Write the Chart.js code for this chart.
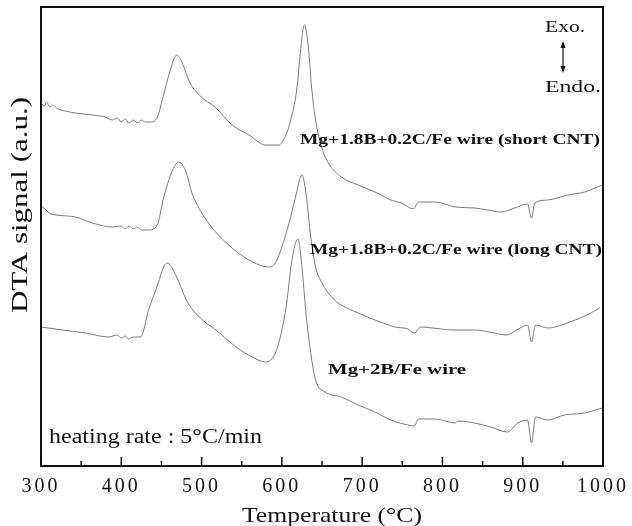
<!DOCTYPE html>
<html lang="en">
<head>
<meta charset="UTF-8">
<title>DTA curves - Mg/B/C Fe wires</title>
<script src="https://cdn.jsdelivr.net/npm/chart.js"></script>
<style>
  html, body { margin: 0; padding: 0; background: #fff; }
  #wrap { width: 632px; height: 526px; }
</style>
</head>
<body>
<div id="wrap"><canvas id="dtaChart" width="632" height="526"></canvas></div>
<script>
  // axis range (temperature in °C, DTA signal in arbitrary units)
  const xMin = 300, xMax = 1000, xStep = 100, xMinorStep = 50;
  const yMin = 0, yMax = 45.9;

  // Mg+1.8B+0.2C/Fe wire (short CNT)
  const tempShort = [300, 304, 307, 311, 315, 319, 330, 343, 364, 380, 389, 395, 400, 405, 410, 415, 420, 425, 430, 436,
    445, 452, 460, 469, 476, 485, 497, 518, 538, 559, 580, 596, 605, 612, 619, 623, 628, 633, 637, 642,
    650, 658, 674, 695, 716, 736, 749, 764, 770, 791, 816, 840, 856, 873, 890, 906, 911, 915, 931, 956, 977, 999];
  const dtaShort = [36.3, 36.0, 36.4, 35.9, 36.1, 35.8, 35.5, 35.3, 35.1, 34.9, 34.6, 34.8, 34.4, 34.7, 34.3, 34.6, 34.3, 34.6, 34.4, 34.4,
    34.9, 36.9, 39.3, 41.1, 40.3, 38.4, 37.1, 35.8, 34.1, 33.1, 32.1, 32.1, 33.1, 34.9, 37.9, 41.3, 44.1, 41.9, 37.9, 34.6,
    31.8, 30.3, 28.9, 28.1, 27.4, 26.6, 26.3, 25.7, 26.4, 26.4, 25.9, 25.8, 25.6, 25.4, 25.8, 26.2, 24.8, 26.3, 26.6, 27.1, 27.4, 28.1];

  // Mg+1.8B+0.2C/Fe wire (long CNT)
  const tempLong = [300, 305, 310, 319, 343, 364, 389, 400, 405, 410, 415, 420, 425, 434, 445, 452, 464, 472, 481, 488,
    506, 531, 559, 584, 592, 600, 609, 617, 625, 630, 636, 642, 650, 662, 674, 695, 716, 741, 757, 765,
    773, 798, 811, 840, 865, 879, 897, 906, 911, 916, 931, 959, 980, 996];
  const dtaLong = [26.0, 25.7, 25.3, 25.1, 24.9, 24.3, 23.9, 24.0, 23.7, 24.0, 23.7, 23.9, 23.6, 23.6, 24.1, 26.6, 29.6, 30.4, 29.3, 27.3,
    24.6, 22.3, 20.6, 19.9, 20.3, 21.9, 24.3, 26.9, 29.1, 27.3, 22.9, 19.9, 18.3, 16.9, 16.1, 15.3, 14.6, 13.9, 13.7, 13.3,
    13.9, 13.7, 13.6, 13.6, 13.3, 13.1, 13.8, 14.1, 12.4, 14.1, 13.8, 14.4, 15.1, 15.8];

  // Mg+2B/Fe wire
  const tempPure = [300, 327, 356, 384, 395, 400, 405, 409, 415, 424, 434, 443, 457, 469, 481, 497, 518, 543, 563, 580,
    592, 600, 606, 612, 620, 625, 630, 636, 642, 654, 674, 695, 716, 736, 757, 765, 770, 791, 816, 819,
    840, 860, 881, 894, 906, 911, 916, 931, 952, 977, 999];
  const dtaPure = [13.9, 13.6, 13.3, 12.9, 13.1, 12.8, 13.0, 12.7, 12.9, 12.9, 15.6, 17.6, 20.3, 18.9, 16.6, 14.9, 13.6, 11.9, 10.9, 10.4,
    11.3, 13.6, 16.3, 20.3, 22.7, 19.9, 15.3, 11.3, 8.6, 7.4, 6.9, 6.1, 5.4, 4.6, 4.1, 4.0, 4.7, 4.7, 4.3, 4.5,
    4.3, 3.9, 3.4, 4.3, 4.6, 2.3, 4.9, 4.6, 5.1, 5.3, 5.8];

  const SERIF = '"Liberation Serif", "DejaVu Serif", serif';
  const INK = '#111';
  const LINE = '#7a7a7a';

  const toPoints = (xs, ys) => xs.map((t, i) => ({ x: t, y: ys[i] }));

  // the scan is stretched sideways, so text is squeezed/stretched to the width it takes there
  function stretchedText(ctx, text, x, y, width, font) {
    ctx.font = font;
    ctx.letterSpacing = '0px';
    const w = ctx.measureText(text).width;
    ctx.save();
    ctx.translate(x, y);
    ctx.scale(width / w, 1);
    ctx.textAlign = 'left';
    ctx.textBaseline = 'alphabetic';
    ctx.fillText(text, 0, 0);
    ctx.restore();
  }

  function arrowHead(ctx, x, y, dir) {
    ctx.beginPath();
    ctx.moveTo(x, y);
    ctx.lineTo(x - 2.5, y + dir * 7);
    ctx.lineTo(x + 2.5, y + dir * 7);
    ctx.closePath();
    ctx.fill();
  }

  const decor = {
    id: 'decor',
    beforeDraw(chart) {
      chart.ctx.letterSpacing = '3px'; // tick labels
    },
    afterDraw(chart) {
      const { ctx, chartArea: a, scales: { x } } = chart;
      ctx.save();
      ctx.letterSpacing = '0px';
      ctx.strokeStyle = INK;
      ctx.fillStyle = INK;

      // box round the plot
      ctx.lineWidth = 2;
      ctx.strokeRect(a.left, a.top, a.right - a.left, a.bottom - a.top);

      // inward ticks on the temperature axis
      ctx.lineWidth = 1.5;
      for (let t = xMin; t <= xMax; t += xMinorStep) {
        const px = x.getPixelForValue(t);
        const len = t % xStep === 0 ? 9 : 5;
        ctx.beginPath();
        ctx.moveTo(px, a.bottom);
        ctx.lineTo(px, a.bottom - len);
        ctx.stroke();
      }

      // axis titles
      stretchedText(ctx, 'Temperature (°C)', 242, 522, 180, '21px ' + SERIF);
      ctx.save();
      ctx.translate(27, 313);
      ctx.rotate(-Math.PI / 2);
      stretchedText(ctx, 'DTA signal (a.u.)', 0, 0, 216, '23px ' + SERIF);
      ctx.restore();

      // curve labels
      stretchedText(ctx, 'Mg+1.8B+0.2C/Fe wire (short CNT)', 300, 144, 300, 'bold 15px ' + SERIF);
      stretchedText(ctx, 'Mg+1.8B+0.2C/Fe wire (long CNT)', 310, 254, 292, 'bold 15px ' + SERIF);
      stretchedText(ctx, 'Mg+2B/Fe wire', 328, 374, 138, 'bold 15px ' + SERIF);
      stretchedText(ctx, 'heating rate : 5°C/min', 49, 443, 213, '20px ' + SERIF);

      // Exo./Endo. direction marker
      stretchedText(ctx, 'Exo.', 545, 32, 40, '16px ' + SERIF);
      stretchedText(ctx, 'Endo.', 545, 92, 56, '16px ' + SERIF);
      ctx.lineWidth = 1.2;
      ctx.beginPath();
      ctx.moveTo(563, 46);
      ctx.lineTo(563, 68);
      ctx.stroke();
      arrowHead(ctx, 563, 41, 1);
      arrowHead(ctx, 563, 73, -1);

      ctx.restore();
    }
  };

  const lineSet = (label, xs, ys) => ({
    label: label,
    data: toPoints(xs, ys),
    borderColor: LINE,
    borderWidth: 1,
    pointRadius: 0,
    cubicInterpolationMode: 'monotone',
    fill: false
  });

  new Chart(document.getElementById('dtaChart'), {
    type: 'line',
    data: {
      datasets: [
        lineSet('Mg+1.8B+0.2C/Fe wire (short CNT)', tempShort, dtaShort),
        lineSet('Mg+1.8B+0.2C/Fe wire (long CNT)', tempLong, dtaLong),
        lineSet('Mg+2B/Fe wire', tempPure, dtaPure)
      ]
    },
    options: {
      responsive: false,
      animation: false,
      layout: { padding: { top: 7, right: 26, left: 0, bottom: 0 } },
      scales: {
        x: {
          type: 'linear',
          min: xMin,
          max: xMax,
          grid: { display: false, drawTicks: false },
          border: { display: false },
          ticks: {
            stepSize: xStep,
            padding: 9,
            color: INK,
            font: { family: SERIF, size: 20 },
            maxRotation: 0,
            callback: v => String(v)
          },
          afterFit: s => { s.height = 60; }
        },
        y: {
          min: yMin,
          max: yMax,
          grid: { display: false, drawTicks: false },
          border: { display: false },
          ticks: { display: false },
          afterFit: s => { s.width = 41; }
        }
      },
      plugins: {
        legend: { display: false },
        tooltip: { enabled: false }
      }
    },
    plugins: [decor]
  });
</script>
</body>
</html>
